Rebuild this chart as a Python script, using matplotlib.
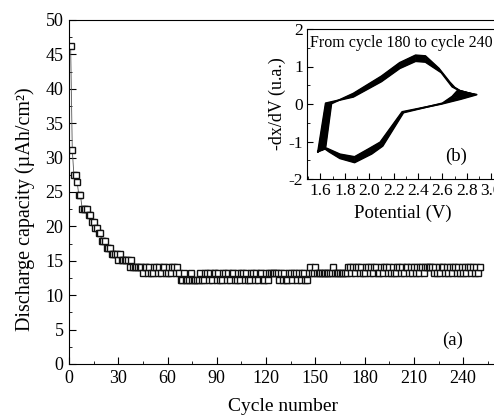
import matplotlib

matplotlib.use("Agg")
import matplotlib.pyplot as plt
import numpy as np
from matplotlib.ticker import MultipleLocator

plt.rcParams["font.family"] = ["Liberation Serif", "DejaVu Serif"]
plt.rcParams["axes.unicode_minus"] = False

# discharge capacity per cycle (uAh/cm2), cycles 1..250
capacity_fade = [46.2, 31.1, 27.4, 27.4, 26.4, 24.5, 24.5, 22.6, 22.6, 22.6,
                 22.6, 21.7, 21.7, 20.7, 20.7, 19.8, 19.8, 19.0, 19.0, 17.9,
                 17.9, 17.9, 16.9, 16.9, 16.9, 16.0, 16.0, 16.0, 16.0, 15.1,
                 16.0, 15.1, 15.1, 15.1, 15.1, 15.1, 14.1, 15.1, 14.1, 14.1,
                 14.1, 14.1, 14.1]
capacity_44_79 = [14.1, 13.2, 14.1, 14.1, 13.2, 14.1, 13.2, 13.2, 14.1, 14.1,
                  13.2, 14.1, 13.2, 14.1, 14.1, 13.2, 13.2, 14.1, 13.2, 14.1,
                  14.1, 13.2, 14.1, 13.2, 12.2, 12.2, 13.2, 12.2, 12.2, 12.2,
                  13.2, 12.2, 12.2, 12.2, 12.2, 12.2]
capacity_80_145 = [13.2, 12.2, 12.2, 13.2, 13.2, 12.2, 13.2, 12.2, 13.2, 13.2,
                   12.2, 13.2, 12.2, 12.2, 13.2, 13.2, 12.2, 13.2, 12.2, 13.2,
                   13.2, 12.2, 12.2, 13.2, 12.2, 13.2, 13.2, 12.2, 13.2, 12.2,
                   12.2, 13.2, 13.2, 12.2, 13.2, 12.2, 13.2, 13.2, 12.2, 12.2,
                   13.2, 12.2, 13.2, 13.2, 13.2, 13.2, 13.2, 13.2, 12.2, 13.2,
                   12.2, 13.2, 12.2, 12.2, 13.2, 13.2, 12.2, 13.2, 13.2, 12.2,
                   13.2, 12.2, 13.2, 13.2, 12.2, 12.2]
capacity_146_170 = [13.2, 14.1, 13.2, 13.2, 14.1, 13.2, 13.2, 13.2, 13.2, 13.2,
                    13.2, 13.2, 13.2, 13.2, 13.2, 14.1, 13.2, 13.2, 13.2, 13.2,
                    13.2, 13.2, 13.2, 13.2, 14.1]
capacity_171_250 = [14.1, 13.2, 14.1, 13.2, 14.1, 14.1, 13.2, 14.1, 13.2, 13.2,
                    14.1, 14.1, 13.2, 14.1, 13.2, 14.1, 14.1, 13.2, 13.2, 14.1,
                    13.2, 14.1, 14.1, 13.2, 14.1, 13.2, 14.1, 13.2, 13.2, 14.1,
                    14.1, 13.2, 14.1, 13.2, 14.1, 14.1, 13.2, 14.1, 13.2, 14.1,
                    13.2, 14.1, 13.2, 14.1, 14.1, 13.2, 14.1, 14.1, 14.1, 14.1,
                    14.1, 13.2, 14.1, 13.2, 14.1, 13.2, 14.1, 14.1, 13.2, 14.1,
                    13.2, 14.1, 13.2, 14.1, 14.1, 13.2, 14.1, 13.2, 14.1, 13.2,
                    14.1, 13.2, 14.1, 14.1, 13.2, 14.1, 13.2, 14.1, 13.2, 14.1]
capacity = capacity_fade + capacity_44_79 + capacity_80_145 + capacity_146_170 + capacity_171_250
cycles = np.arange(1, len(capacity) + 1)

# inset: dx/dV loops, cycle 180 and cycle 240 (band between them)
cv180_v = [1.580, 1.643, 1.870, 2.100, 2.250, 2.380, 2.460, 2.590, 2.680, 2.760,
           2.880, 2.750, 2.590, 2.270, 2.090, 2.000, 1.880, 1.760, 1.650, 1.580]
cv180_i = [-1.27, 0.02, 0.19, 0.60, 0.95, 1.14, 1.12, 0.84, 0.46, 0.32,
           0.25, 0.13, 0.00, -0.21, -1.02, -1.19, -1.41, -1.34, -1.18, -1.27]
cv240_v = [1.640, 1.690, 1.870, 2.100, 2.250, 2.380, 2.460, 2.570, 2.660, 2.700,
           2.730, 2.680, 2.600, 2.280, 2.110, 2.020, 1.880, 1.760, 1.670, 1.640]
cv240_i = [-1.20, 0.01, 0.28, 0.74, 1.10, 1.30, 1.28, 0.95, 0.58, 0.44,
           0.38, 0.20, 0.02, -0.23, -1.12, -1.33, -1.56, -1.45, -1.27, -1.20]

fig = plt.figure(figsize=(4.94, 4.2), dpi=100)
ax = fig.add_axes([69 / 494, 56 / 420, 427 / 494, 344 / 420])
ax.plot(cycles, capacity, "-", color="#555555", lw=0.6, marker="s", ms=4.8,
        mfc="white", mec="#111111", mew=1.0)
ax.set_xlim(0, 260)
ax.set_ylim(0, 50)
ax.xaxis.set_major_locator(MultipleLocator(30))
ax.xaxis.set_minor_locator(MultipleLocator(15))
ax.yaxis.set_major_locator(MultipleLocator(5))
ax.yaxis.set_minor_locator(MultipleLocator(2.5))
ax.tick_params(which="both", direction="in", labelsize=13, pad=4)
ax.tick_params(which="major", length=5)
ax.tick_params(which="minor", length=2.5)
ax.set_xlabel("Cycle number", fontsize=14, labelpad=8)
ax.set_ylabel("Discharge capacity (\u00b5Ah/cm\u00b2)", fontsize=14.5)
ax.yaxis.set_label_coords(-0.08, 0.45)
ax.text(0.899, 0.07, "(a)", transform=ax.transAxes, fontsize=13.5, ha="center", va="center")

ins = fig.add_axes([307 / 494, 241 / 420, 191 / 494, 150 / 420])
for k in range(len(cv180_v) - 1):
    ins.fill([cv180_v[k], cv180_v[k + 1], cv240_v[k + 1], cv240_v[k]],
             [cv180_i[k], cv180_i[k + 1], cv240_i[k + 1], cv240_i[k]],
             color="black", lw=0.5)
ins.plot(cv180_v, cv180_i, color="black", lw=1.3)
ins.plot(cv240_v, cv240_i, color="black", lw=1.3)
ins.set_xlim(1.49, 3.055)
ins.set_ylim(-2, 2)
ins.xaxis.set_major_locator(MultipleLocator(0.2))
ins.xaxis.set_minor_locator(MultipleLocator(0.1))
ins.yaxis.set_major_locator(MultipleLocator(1))
ins.yaxis.set_minor_locator(MultipleLocator(0.5))
ins.tick_params(which="both", direction="in", labelsize=12.5, pad=3)
ins.tick_params(which="major", length=4)
ins.tick_params(which="minor", length=2)
ins.set_xlabel("Potential (V)", fontsize=13.5, labelpad=4)
ins.set_ylabel("-dx/dV (u.a.)", fontsize=13, labelpad=2)
ins.text(0.017, 0.905, "From cycle 180 to cycle 240", transform=ins.transAxes,
         fontsize=11.5, ha="left", va="center")
ins.text(0.78, 0.15, "(b)", transform=ins.transAxes, fontsize=13.5, ha="center", va="center")

fig.savefig("out.png", dpi=100)
